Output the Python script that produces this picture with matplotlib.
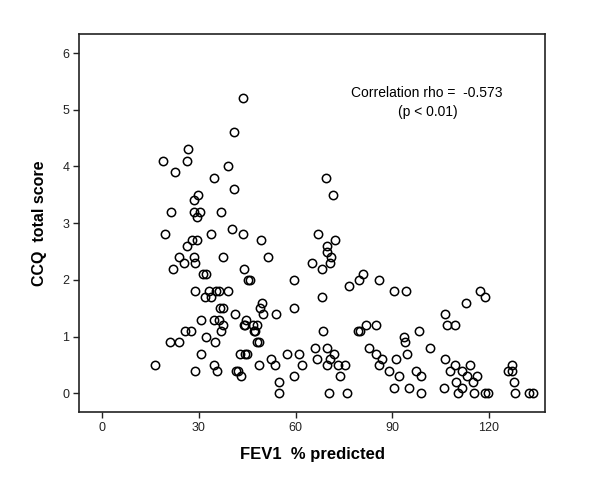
import numpy as np
import matplotlib
matplotlib.use("Agg")
import matplotlib.pyplot as plt

plt.rcParams["font.family"] = ["Liberation Sans", "DejaVu Sans"]

# FEV1 % predicted vs CCQ total score
fev1 = [
    43.6, 40.8, 26.7, 18.9, 26.3, 39.1, 22.5, 34.8, 41.0, 29.7, 28.4, 21.3, 28.4,
    30.3, 29.3, 36.8, 19.5, 28.0, 29.3, 33.8, 40.4, 43.6, 49.2, 26.4, 23.9, 28.4,
    25.4, 28.7, 37.4, 51.4, 21.9, 44.0, 31.2, 32.2, 45.3, 45.8, 59.5,
    28.8, 33.1, 35.3, 36.3, 39.2, 31.8, 33.7, 49.7, 49.0, 36.7, 37.4, 59.5, 49.9,
    41.1, 53.8, 30.7, 34.6, 36.2, 44.5, 37.6, 43.9, 44.3, 46.9, 47.9, 25.7, 27.7,
    36.9, 47.1, 47.4, 32.1, 21.2, 23.9, 35.1, 47.9, 48.7, 30.8, 42.9, 44.3, 45.0,
    57.2, 61.1, 52.5, 16.5, 34.8, 48.7, 53.6, 28.8, 35.7, 41.5, 42.2, 43.2, 59.6,
    54.8, 55.0,
    69.5, 71.7, 67.1, 72.3, 69.9, 69.9, 71.0, 70.8, 65.1, 68.1, 80.9, 79.7, 85.9,
    76.5, 90.4, 94.1, 68.1, 68.5, 79.5, 80.0, 81.9, 84.9, 93.7, 93.9, 98.2, 101.8,
    66.0, 69.6, 66.7, 71.8, 70.8, 69.6, 73.2, 75.3, 61.9, 73.8, 70.4, 76.1, 82.7,
    85.0, 86.8, 85.8, 91.0, 94.6, 89.0, 92.0, 97.5, 98.9, 90.6, 95.2, 99.0,
    117.1, 118.6, 112.9, 106.2, 107.0, 109.6, 106.5, 109.3, 114.0, 127.1, 108.0,
    111.5, 125.9, 127.2, 113.3, 116.2, 109.9, 111.7, 114.9, 127.6, 105.9, 110.4,
    115.3, 118.6, 119.7, 128.2, 132.4, 133.7,
]
ccq = [
    5.2, 4.6, 4.3, 4.1, 4.1, 4.0, 3.9, 3.8, 3.6, 3.5, 3.4, 3.2, 3.2,
    3.2, 3.1, 3.2, 2.8, 2.7, 2.7, 2.8, 2.9, 2.8, 2.7, 2.6, 2.4, 2.4,
    2.3, 2.3, 2.4, 2.4, 2.2, 2.2, 2.1, 2.1, 2.0, 2.0, 2.0,
    1.8, 1.8, 1.8, 1.8, 1.8, 1.7, 1.7, 1.6, 1.5, 1.5, 1.5, 1.5, 1.4,
    1.4, 1.4, 1.3, 1.3, 1.3, 1.3, 1.2, 1.2, 1.2, 1.2, 1.2, 1.1, 1.1,
    1.1, 1.1, 1.1, 1.0, 0.9, 0.9, 0.9, 0.9, 0.9, 0.7, 0.7, 0.7, 0.7,
    0.7, 0.7, 0.6, 0.5, 0.5, 0.5, 0.5, 0.4, 0.4, 0.4, 0.4, 0.3, 0.3,
    0.2, 0.0,
    3.8, 3.5, 2.8, 2.7, 2.6, 2.5, 2.4, 2.3, 2.3, 2.2, 2.1, 2.0, 2.0,
    1.9, 1.8, 1.8, 1.7, 1.1, 1.1, 1.1, 1.2, 1.2, 1.0, 0.9, 1.1, 0.8,
    0.8, 0.8, 0.6, 0.7, 0.6, 0.5, 0.5, 0.5, 0.5, 0.3, 0.0, 0.0, 0.8,
    0.7, 0.6, 0.5, 0.6, 0.7, 0.4, 0.3, 0.4, 0.3, 0.1, 0.1, 0.0,
    1.8, 1.7, 1.6, 1.4, 1.2, 1.2, 0.6, 0.5, 0.5, 0.5, 0.4,
    0.4, 0.4, 0.4, 0.3, 0.3, 0.2, 0.1, 0.2, 0.2, 0.1, 0.0,
    0.0, 0.0, 0.0, 0.0, 0.0, 0.0,
]

fig = plt.figure(figsize=(6, 4.84), dpi=100)
ax = fig.add_axes([0.132, 0.149, 0.776, 0.781])

ax.plot(fev1, ccq, linestyle="none", marker="o", markersize=6,
        markerfacecolor="none", markeredgecolor="black", markeredgewidth=1.1)

ax.set_xlim(-7.1, 137.3)
ax.set_ylim(-0.33, 6.34)
ax.set_xticks([0, 30, 60, 90, 120])
ax.set_yticks([0, 1, 2, 3, 4, 5, 6])

for s in ax.spines.values():
    s.set_linewidth(1.2)
    s.set_color("#222222")
ax.tick_params(direction="out", length=4, width=1.0, labelsize=9,
               colors="#222222", pad=3)

ax.set_xlabel("FEV1  % predicted", fontsize=12, fontweight="bold", labelpad=10)
ax.set_ylabel("CCQ  total score", fontsize=11.5, fontweight="bold", labelpad=11)

ax.text(0.910, 0.844, "Correlation rho =  -0.573", transform=ax.transAxes,
        ha="right", va="center", fontsize=10)
ax.text(0.748, 0.794, "(p < 0.01)", transform=ax.transAxes,
        ha="center", va="center", fontsize=10)

fig.savefig("out.png", dpi=100)
plt.close(fig)
